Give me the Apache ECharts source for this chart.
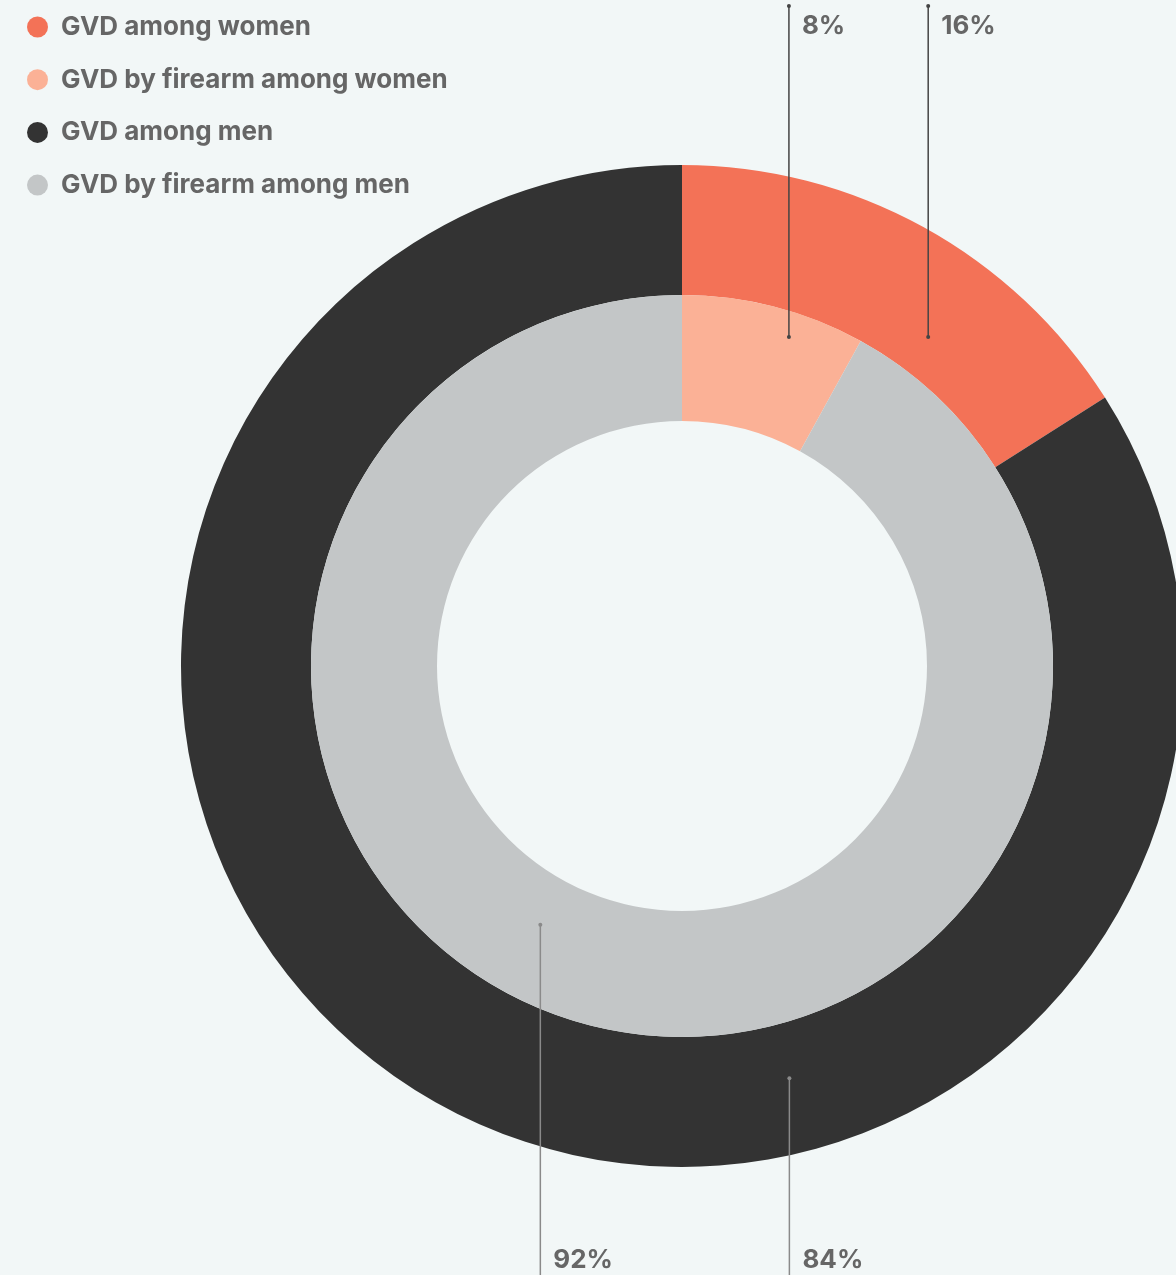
<!DOCTYPE html>
<html>
<head>
<meta charset="utf-8">
<script src="https://cdn.jsdelivr.net/npm/echarts@6/dist/echarts.min.js"></script>
<style>
html,body{margin:0;padding:0;background:#F2F7F7;}
#chart{width:1176px;height:1275px;}
</style>
</head>
<body>
<div id="chart"></div>
<script>
// ---- data ----
const categories = ['GVD among women', 'GVD by firearm among women', 'GVD among men', 'GVD by firearm among men'];
const colors = ['#F37257', '#FBB196', '#333333', '#C3C6C7'];
const outerValues = [16, 84];   // GVD among women, GVD among men
const innerValues = [8, 92];    // by firearm among women, by firearm among men

// ---- layout (annotation anchors in polar terms around the pie centre) ----
const CX = 682, CY = 666;
const anchors = [
  // outer ring: women, men
  [{angle: 36.8, r: 411, endY: 6, labelY: 26, color: '#444444'},
   {angle: 165.4, r: 426, endY: 1290, labelY: 1260, color: '#8a8a8a'}],
  // inner ring: women firearm, men firearm
  [{angle: 18, r: 346, endY: 6, labelY: 26, color: '#444444'},
   {angle: 208.7, r: 295, endY: 1290, labelY: 1260, color: '#8a8a8a'}]
];
function anchorPt(a) {
  const rad = a.angle * Math.PI / 180;
  return [CX + a.r * Math.sin(rad), CY - a.r * Math.cos(rad)];
}

const chart = echarts.init(document.getElementById('chart'));
const FONT = 'Inter';
const labelStyle = {
  show: true, position: 'outside', formatter: '{c}%',
  color: '#666666', fontFamily: FONT, fontWeight: 'bold', fontSize: 26
};
function layoutFn(params) {
  const a = anchors[params.seriesIndex][params.dataIndex];
  const p = anchorPt(a);
  return {x: p[0] + 13, y: a.labelY, align: 'left', verticalAlign: 'middle'};
}
function mkData(vals, nameIdx) {
  return vals.map((v, i) => ({
    name: categories[nameIdx[i]], value: v,
    itemStyle: {color: colors[nameIdx[i]]}
  }));
}

// annotation leader lines (drawn above the rings)
const annot = [];
anchors.forEach(ring => ring.forEach(a => {
  const p = anchorPt(a);
  annot.push({type: 'line', shape: {x1: p[0], y1: p[1], x2: p[0], y2: a.endY},
    style: {stroke: a.color, lineWidth: 1.5}, z: 100});
  annot.push({type: 'circle', shape: {cx: p[0], cy: p[1], r: 2}, style: {fill: a.color}, z: 101});
  if (a.endY < 100) annot.push({type: 'circle', shape: {cx: p[0], cy: a.endY, r: 2}, style: {fill: a.color}, z: 101});
}));

chart.setOption({
  backgroundColor: '#F2F7F7',
  animation: false,
  color: colors,
  legend: {
    data: categories,
    orient: 'vertical', left: 22, top: 7,
    icon: 'circle', itemWidth: 21, itemHeight: 21, itemGap: 22.7,
    selectedMode: false,
    textStyle: {color: '#666666', fontFamily: FONT, fontWeight: 'bold', fontSize: 26, lineHeight: 30, padding: [0, 0, 0, 8]}
  },
  graphic: annot,
  series: [
    {
      type: 'pie', center: [CX, CY], radius: [371, 501], startAngle: 90, clockwise: true,
      avoidLabelOverlap: false, silent: true,
      label: labelStyle, labelLine: {show: false}, labelLayout: layoutFn,
      data: mkData(outerValues, [0, 2])
    },
    {
      type: 'pie', center: [CX, CY], radius: [245, 371], startAngle: 90, clockwise: true,
      avoidLabelOverlap: false, silent: true,
      label: labelStyle, labelLine: {show: false}, labelLayout: layoutFn,
      data: mkData(innerValues, [1, 3])
    }
  ]
});
</script>
</body>
</html>
